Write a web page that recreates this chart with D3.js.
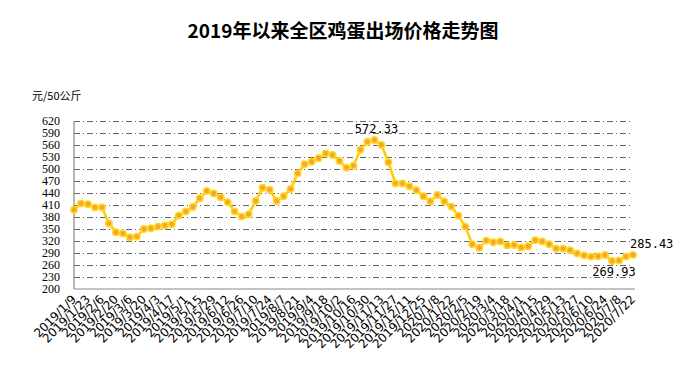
<!DOCTYPE html>
<html>
<head>
<meta charset="utf-8">
<script src="https://cdn.jsdelivr.net/npm/d3@7"></script>
<style>
  body { margin: 0; background: #fff; }
  .grid line { stroke: #666; stroke-dasharray: 6,3,1,3; }
  .grid path { display: none; }
</style>
</head>
<body>
<div id="chart"></div>
<script>
// weekly dates (category axis)
var dates = [
  "2019/1/9", "2019/1/16", "2019/1/23", "2019/1/30", "2019/2/6", "2019/2/13", "2019/2/20", "2019/2/27",
  "2019/3/6", "2019/3/13", "2019/3/20", "2019/3/27", "2019/4/3", "2019/4/10", "2019/4/17", "2019/4/24",
  "2019/5/1", "2019/5/8", "2019/5/15", "2019/5/22", "2019/5/29", "2019/6/5", "2019/6/12", "2019/6/19",
  "2019/6/26", "2019/7/3", "2019/7/10", "2019/7/17", "2019/7/24", "2019/7/31", "2019/8/7", "2019/8/14",
  "2019/8/21", "2019/8/28", "2019/9/4", "2019/9/11", "2019/9/18", "2019/9/25", "2019/10/2", "2019/10/9",
  "2019/10/16", "2019/10/23", "2019/10/30", "2019/11/6", "2019/11/13", "2019/11/20", "2019/11/27", "2019/12/4",
  "2019/12/11", "2019/12/18", "2019/12/25", "2020/1/1", "2020/1/8", "2020/1/15", "2020/1/22", "2020/1/29",
  "2020/2/5", "2020/2/12", "2020/2/19", "2020/2/26", "2020/3/4", "2020/3/11", "2020/3/18", "2020/3/25",
  "2020/4/1", "2020/4/8", "2020/4/15", "2020/4/22", "2020/4/29", "2020/5/6", "2020/5/13", "2020/5/20",
  "2020/5/27", "2020/6/3", "2020/6/10", "2020/6/17", "2020/6/24", "2020/7/1", "2020/7/8", "2020/7/15",
  "2020/7/22"
];

// 元/50公斤
var prices = [
  398, 414, 412, 404, 404, 364, 342, 339, 329, 331,
  350, 352, 356, 359, 362, 384, 394, 405, 427, 445,
  439, 429, 417, 394, 381, 387, 420, 453, 448, 420,
  432, 450, 489, 512, 518, 527, 539, 535, 520, 503,
  508, 548, 568, 572.33, 560, 517, 464, 464, 457, 447,
  432, 419, 435, 419, 406, 383, 356, 312, 303, 321,
  317, 319, 309, 310, 304, 307, 322, 319, 312, 301,
  301, 297, 289, 284, 281, 282, 285, 269.93, 271, 281,
  285.43
];

var yTicks = [200, 230, 260, 290, 320, 350, 380, 410, 440, 470, 500, 530, 560, 590, 620];

// points that carry a value label
var labelIdx = [43, 77, 80];

var width = 685, height = 376;
var plotLeft = 74, plotRight = 633, plotTop = 121, plotBottom = 289;

var svg = d3.select("#chart")
            .append("svg")
            .attr("width", width)
            .attr("height", height);

// title
svg.append("text")
   .attr("x", 343)
   .attr("y", 38)
   .attr("text-anchor", "middle")
   .style("font-family", "'Noto Sans CJK SC'")
   .style("font-weight", "bold")
   .style("font-size", "19px")
   .text("2019年以来全区鸡蛋出场价格走势图");

// unit
svg.append("text")
   .attr("x", 32)
   .attr("y", 100)
   .style("font-family", "'Noto Sans CJK SC'")
   .style("font-size", "11px")
   .text("元/50公斤");

var x = d3.scalePoint()
          .domain(dates)
          .range([plotLeft, plotRight]);

var y = d3.scaleLinear()
          .domain([200, 620])
          .range([plotBottom, plotTop]);

// grid lines
svg.append("g")
   .attr("class", "grid")
   .attr("transform", "translate(" + plotLeft + ",0)")
   .call(d3.axisLeft(y)
           .tickValues(yTicks.slice(1))
           .tickSize(-(plotRight - plotLeft))
           .tickFormat(""));

// y tick labels
svg.append("g")
   .attr("transform", "translate(" + plotLeft + ",0)")
   .call(d3.axisLeft(y).tickValues(yTicks).tickSize(0).tickPadding(14))
   .call(function (g) {
     g.select(".domain").remove();
     g.selectAll("text")
      .style("font-family", "'Liberation Serif'")
      .style("font-size", "12px")
      .attr("fill", "#000");
   });

// axes lines
svg.append("line")
   .attr("x1", plotLeft).attr("x2", plotLeft)
   .attr("y1", plotTop).attr("y2", plotBottom)
   .style("stroke", "#888").style("stroke-width", 1.2);

svg.append("line")
   .attr("x1", plotLeft).attr("x2", plotRight + 2)
   .attr("y1", plotBottom).attr("y2", plotBottom)
   .style("stroke", "#888").style("stroke-width", 1.2);

// x labels, every other week, rotated
svg.append("g")
   .selectAll("text")
   .data(dates.filter(function (d, i) { return i % 2 == 0; }))
   .enter()
   .append("text")
   .attr("transform", function (d) {
     return "translate(" + (x(d) + 3) + "," + (plotBottom + 11) + ") rotate(-45)";
   })
   .attr("text-anchor", "end")
   .style("font-family", "'DejaVu Sans'")
   .style("font-size", "12px")
   .attr("fill", "#000")
   .text(function (d) { return d; });

// line
var line = d3.line()
             .x(function (d, i) { return x(dates[i]); })
             .y(function (d) { return y(d); });

svg.append("path")
   .datum(prices)
   .attr("d", line)
   .attr("fill", "none")
   .attr("stroke", "#FFCC00")
   .attr("stroke-width", 2.5);

svg.append("g")
   .selectAll("circle")
   .data(prices)
   .enter()
   .append("circle")
   .attr("cx", function (d, i) { return x(dates[i]); })
   .attr("cy", function (d) { return y(d); })
   .attr("r", 3.2)
   .attr("fill", "#F6A33A")
   .attr("stroke", "#FFD91A")
   .attr("stroke-width", 1.5);

// value labels
svg.append("g")
   .selectAll("text")
   .data(labelIdx)
   .enter()
   .append("text")
   .attr("x", function (i) {
     return i == 80 ? x(dates[i]) - 3 : x(dates[i]) + 2;
   })
   .attr("y", function (i) {
     return i == 77 ? y(prices[i]) + 15 : y(prices[i]) - 7;
   })
   .attr("text-anchor", function (i) { return i == 80 ? "start" : "middle"; })
   .style("font-family", "'DejaVu Sans Mono'")
   .style("font-size", "12px")
   .text(function (i) { return prices[i].toFixed(2); });
</script>
</body>
</html>
